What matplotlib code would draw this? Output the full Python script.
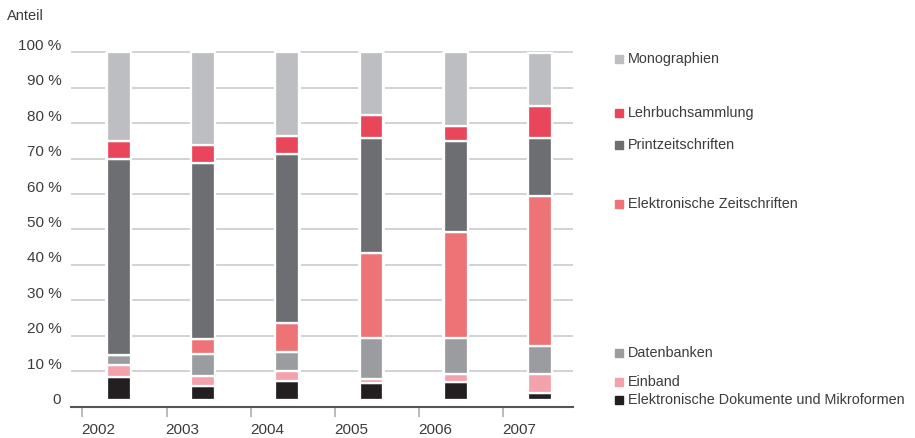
import numpy as np
import matplotlib.pyplot as plt
from matplotlib.transforms import ScaledTranslation, blended_transform_factory

plt.rcParams['font.family'] = ['Liberation Sans', 'DejaVu Sans']

years = ["2002", "2003", "2004", "2005", "2006", "2007"]

# shares per year in percent, bottom to top of each bar
el_dokumente = [6.6, 4.2, 5.4, 4.8, 5.3, 2.0]
einband = [3.6, 2.6, 3.0, 1.4, 2.2, 5.4]
datenbanken = [2.8, 6.4, 5.4, 11.6, 10.3, 8.1]
el_zeitschriften = [0.0, 4.4, 8.5, 24.4, 30.4, 43.2]
printzeitschriften = [56.4, 50.7, 48.4, 33.3, 26.3, 16.8]
lehrbuch = [5.0, 5.1, 5.3, 6.6, 4.4, 9.2]
monographien = [25.6, 26.6, 24.0, 17.9, 21.2, 15.2]

labels = ["Elektronische Dokumente und Mikroformen", "Einband", "Datenbanken",
          "Elektronische Zeitschriften", "Printzeitschriften", "Lehrbuchsammlung",
          "Monographien"]
values = [el_dokumente, einband, datenbanken, el_zeitschriften,
          printzeitschriften, lehrbuch, monographien]
colors = ["#231f20", "#f3a1ab", "#9b9c9f", "#ee7377", "#6d6e72", "#e9465b", "#bdbec1"]

# where the legend entries sit (data y)
legend_y = [1.8, 7.0, 15.0, 57.2, 73.8, 82.8, 98.1]

text_col = "#3c3c3c"
base = 1.8          # bars float slightly above the axis line
bar_off = 0.433
bar_w = 0.283

fig = plt.figure(figsize=(9.15, 4.38), dpi=100)
ax = fig.add_axes([0.0776, 0.0719, 0.5486, 0.8167])
ax.set_xlim(-0.135, 5.825)
ax.set_ylim(0, 101)

x = np.arange(len(years))
xb = x + bar_off

# gridlines
for g in range(10, 101, 10):
    ax.axhline(g, color="#c6c6c6", lw=1.1, zorder=1)

# white strip behind bars to break the gridlines
ax.bar(xb, 100 - base, bottom=base, width=bar_w + 0.035, color="white", lw=0, zorder=2)

scale = (100 - base) / 100
bottom = np.full(len(years), base)
for vals, col in zip(values, colors):
    h = np.array(vals) * scale
    ax.bar(xb, h, bottom=bottom, width=bar_w, color=col, edgecolor="white",
           linewidth=1.65, zorder=3)
    bottom = bottom + h

# axes styling
for s in ["top", "right", "left"]:
    ax.spines[s].set_visible(False)
ax.spines["bottom"].set_color("#555555")
ax.spines["bottom"].set_linewidth(1.5)
ax.spines["bottom"].set_zorder(5)

ax.set_xticks(x)
ax.set_xticklabels(years, ha="left", fontsize=11, color=text_col)
ax.tick_params(axis="x", length=7, width=1.1, color="#a8a8a8", pad=5)

yt = list(range(0, 101, 10))
ax.set_yticks(yt)
ax.set_yticklabels(["0"] + [f"{v} %" for v in yt[1:]], fontsize=11, color=text_col)
ax.tick_params(axis="y", length=0, pad=7)
off = ScaledTranslation(0, 8 / 100, fig.dpi_scale_trans)
for lab in ax.get_yticklabels():
    lab.set_transform(lab.get_transform() + off)
xoff = ScaledTranslation(-1 / 100, 0, fig.dpi_scale_trans)
for lab in ax.get_xticklabels():
    lab.set_transform(lab.get_transform() + xoff)

fig.text(7 / 915, 1 - 16 / 438, "Anteil", fontsize=10.5, color=text_col, va="center")

# legend next to the bars
tr = blended_transform_factory(fig.transFigure, ax.transData)
for lab, col, ly in zip(labels, colors, legend_y):
    ax.plot([619 / 915], [ly], marker="s", ms=5.8, color=col, transform=tr,
            clip_on=False, lw=0)
    ax.text(628 / 915, ly, lab, transform=tr, fontsize=10.4, color=text_col,
            va="center", ha="left", clip_on=False)

fig.savefig("out.png", dpi=100)
